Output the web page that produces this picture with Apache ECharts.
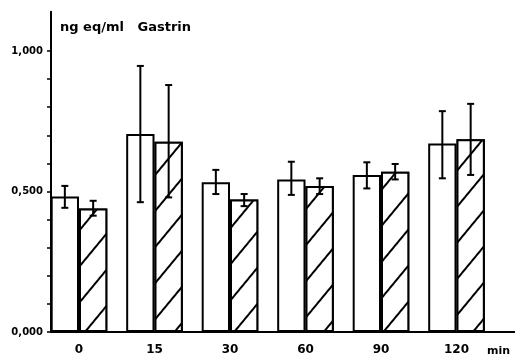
<!DOCTYPE html>
<html><head><meta charset="utf-8">
<script src="https://cdn.jsdelivr.net/npm/echarts@6/dist/echarts.min.js"></script>
<style>html,body{margin:0;padding:0;background:#fff}#c{width:515px;height:357px}</style>
</head><body><div id="c"></div>
<script>
const categories = ['0', '15', '30', '60', '90', '120'];
const openValues = [0.482, 0.705, 0.533, 0.543, 0.559, 0.671];
const openErrLow = [0.442, 0.462, 0.491, 0.488, 0.511, 0.547];
const openErrHigh = [0.520, 0.947, 0.577, 0.606, 0.604, 0.786];
const hatchValues = [0.440, 0.677, 0.472, 0.520, 0.570, 0.686];
const hatchErrLow = [0.414, 0.479, 0.448, 0.491, 0.543, 0.559];
const hatchErrHigh = [0.467, 0.879, 0.491, 0.547, 0.598, 0.812];
const yTickValues = [0, 0.1, 0.2, 0.3, 0.4, 0.5, 0.6, 0.7, 0.8, 0.9, 1.0];
const yLabelValues = [0, 0.5, 1.0];

const chart = echarts.init(document.getElementById('c'));
const FONT = 'DejaVu Sans';
const BAR_FRAC = 0.375;

function errorItem(shiftSign) {
  return function (params, api) {
    const idx = api.value(0);
    const pLo = api.coord([idx, api.value(1)]);
    const pHi = api.coord([idx, api.value(2)]);
    const band = api.size([1, 0])[0];
    const bw = band * BAR_FRAC;
    const x = pLo[0] + shiftSign * bw / 2;
    const cap = 3.5;
    const st = { stroke: '#000', lineWidth: 2 };
    return {
      type: 'group',
      children: [
        { type: 'line', shape: { x1: x, y1: pLo[1], x2: x, y2: pHi[1] }, style: st },
        { type: 'line', shape: { x1: x - cap, y1: pLo[1], x2: x + cap, y2: pLo[1] }, style: st },
        { type: 'line', shape: { x1: x - cap, y1: pHi[1], x2: x + cap, y2: pHi[1] }, style: st }
      ]
    };
  };
}

chart.setOption({
  animation: false,
  backgroundColor: '#fff',
  title: [
    { text: 'ng eq/ml   Gastrin', left: 60, top: 21, padding: 0,
      textStyle: { fontFamily: FONT, fontSize: 13, fontWeight: 'bold', color: '#000' } },
    { text: 'min', left: 487, top: 346, padding: 0,
      textStyle: { fontFamily: FONT, fontSize: 11, fontWeight: 'bold', color: '#000' } }
  ],
  grid: [
    { left: 41.25, right: 20.75, top: 11.7, bottom: 25 },
    { left: 51, right: 0, top: 11.7, bottom: 25 }
  ],
  xAxis: [
    { type: 'category', gridIndex: 0, data: categories,
      axisLine: { show: false }, axisTick: { show: false },
      axisLabel: { fontFamily: FONT, fontSize: 12, fontWeight: 'bold', color: '#000', margin: 12 } },
    { type: 'value', gridIndex: 1, min: 0, max: 1,
      axisLine: { show: true, lineStyle: { color: '#000', width: 2 } },
      axisTick: { show: false }, axisLabel: { show: false }, splitLine: { show: false } }
  ],
  yAxis: [
    { type: 'value', gridIndex: 0, min: 0, max: 1.14, offset: -9.75,
      axisLine: { show: true, lineStyle: { color: '#000', width: 2 } },
      axisTick: { show: true, length: 4, customValues: yTickValues, lineStyle: { color: '#000', width: 1.5 } },
      axisLabel: { customValues: yLabelValues, margin: 8, fontFamily: FONT, fontSize: 10, fontWeight: 'bold', color: '#000',
        formatter: v => v.toFixed(3).replace('.', ',') },
      splitLine: { show: false } },
    { type: 'value', gridIndex: 1, show: false, min: 0, max: 1 }
  ],
  series: [
    { type: 'bar', xAxisIndex: 0, yAxisIndex: 0, data: openValues,
      barGap: '0%', barCategoryGap: '25%',
      itemStyle: { color: '#fff', borderColor: '#000', borderWidth: 2 } },
    { type: 'bar', xAxisIndex: 0, yAxisIndex: 0, data: hatchValues,
      barGap: '0%', barCategoryGap: '25%',
      itemStyle: { color: '#fff', borderColor: '#000', borderWidth: 2,
        decal: { symbol: 'rect', symbolSize: 1, color: '#000', backgroundColor: '#fff',
          dashArrayX: [1, 0], dashArrayY: [2, 21], rotation: -0.88 } } },
    { type: 'custom', xAxisIndex: 0, yAxisIndex: 0, z: 5,
      renderItem: errorItem(-1),
      encode: { x: 0, y: [1, 2] },
      data: categories.map((c, i) => [i, openErrLow[i], openErrHigh[i]]) },
    { type: 'custom', xAxisIndex: 0, yAxisIndex: 0, z: 5,
      renderItem: errorItem(1),
      encode: { x: 0, y: [1, 2] },
      data: categories.map((c, i) => [i, hatchErrLow[i], hatchErrHigh[i]]) }
  ]
});
</script></body></html>
